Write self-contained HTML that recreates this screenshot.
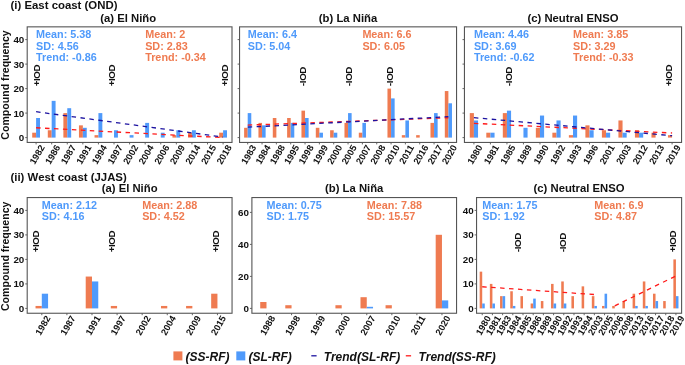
<!DOCTYPE html>
<html><head><meta charset="utf-8"><title>Compound frequency</title>
<style>
html,body{margin:0;padding:0;background:#fff;}
body{width:685px;height:365px;overflow:hidden;}
svg{display:block;will-change:transform;}
text{font-family:"Liberation Sans", sans-serif;font-weight:bold;}
</style></head>
<body>
<svg width="685" height="365" viewBox="0 0 685 365">
<rect width="685" height="365" fill="#fff"/>
<rect x="32.20" y="132.70" width="3.90" height="4.90" fill="#EF7B51"/>
<rect x="36.10" y="118.00" width="3.90" height="19.60" fill="#4F9AFB"/>
<rect x="47.79" y="130.25" width="3.90" height="7.35" fill="#EF7B51"/>
<rect x="51.68" y="100.85" width="3.90" height="36.75" fill="#4F9AFB"/>
<rect x="63.37" y="113.10" width="3.90" height="24.50" fill="#EF7B51"/>
<rect x="67.27" y="108.20" width="3.90" height="29.40" fill="#4F9AFB"/>
<rect x="78.95" y="125.35" width="3.90" height="12.25" fill="#EF7B51"/>
<rect x="82.85" y="127.80" width="3.90" height="9.80" fill="#4F9AFB"/>
<rect x="94.54" y="135.15" width="3.90" height="2.45" fill="#EF7B51"/>
<rect x="98.43" y="113.10" width="3.90" height="24.50" fill="#4F9AFB"/>
<rect x="114.02" y="130.25" width="3.90" height="7.35" fill="#4F9AFB"/>
<rect x="129.60" y="135.15" width="3.90" height="2.45" fill="#4F9AFB"/>
<rect x="145.18" y="122.90" width="3.90" height="14.70" fill="#4F9AFB"/>
<rect x="160.77" y="132.70" width="3.90" height="4.90" fill="#4F9AFB"/>
<rect x="172.45" y="135.15" width="3.90" height="2.45" fill="#EF7B51"/>
<rect x="176.35" y="130.25" width="3.90" height="7.35" fill="#4F9AFB"/>
<rect x="188.04" y="132.70" width="3.90" height="4.90" fill="#EF7B51"/>
<rect x="191.93" y="130.25" width="3.90" height="7.35" fill="#4F9AFB"/>
<rect x="219.20" y="132.70" width="3.90" height="4.90" fill="#EF7B51"/>
<rect x="223.10" y="130.25" width="3.90" height="7.35" fill="#4F9AFB"/>
<line x1="36.10" y1="127.77" x2="223.10" y2="137.63" stroke="#FF1A1A" stroke-width="1.3" stroke-dasharray="4.48 4.48"/>
<line x1="36.10" y1="111.73" x2="223.10" y2="137.09" stroke="#1C12A0" stroke-width="1.3" stroke-dasharray="4.48 4.48"/>
<rect x="27.20" y="26.85" width="204.80" height="115.60" fill="none" stroke="#555555" stroke-width="1.1"/>
<line x1="25.25" y1="137.60" x2="27.15" y2="137.60" stroke="#555555" stroke-width="0.9"/>
<text x="24.30" y="141.00" font-size="9.8" text-anchor="end" fill="#111111">0</text>
<line x1="25.25" y1="113.10" x2="27.15" y2="113.10" stroke="#555555" stroke-width="0.9"/>
<text x="24.30" y="116.50" font-size="9.8" text-anchor="end" fill="#111111">10</text>
<line x1="25.25" y1="88.60" x2="27.15" y2="88.60" stroke="#555555" stroke-width="0.9"/>
<text x="24.30" y="92.00" font-size="9.8" text-anchor="end" fill="#111111">20</text>
<line x1="25.25" y1="64.10" x2="27.15" y2="64.10" stroke="#555555" stroke-width="0.9"/>
<text x="24.30" y="67.50" font-size="9.8" text-anchor="end" fill="#111111">30</text>
<line x1="25.25" y1="39.60" x2="27.15" y2="39.60" stroke="#555555" stroke-width="0.9"/>
<text x="24.30" y="43.00" font-size="9.8" text-anchor="end" fill="#111111">40</text>
<line x1="36.10" y1="142.50" x2="36.10" y2="144.40" stroke="#555555" stroke-width="0.9"/>
<text transform="translate(45.10,147.20) rotate(-60)" font-size="9.3" text-anchor="end" fill="#111111">1982</text>
<line x1="51.68" y1="142.50" x2="51.68" y2="144.40" stroke="#555555" stroke-width="0.9"/>
<text transform="translate(60.68,147.20) rotate(-60)" font-size="9.3" text-anchor="end" fill="#111111">1986</text>
<line x1="67.27" y1="142.50" x2="67.27" y2="144.40" stroke="#555555" stroke-width="0.9"/>
<text transform="translate(76.27,147.20) rotate(-60)" font-size="9.3" text-anchor="end" fill="#111111">1987</text>
<line x1="82.85" y1="142.50" x2="82.85" y2="144.40" stroke="#555555" stroke-width="0.9"/>
<text transform="translate(91.85,147.20) rotate(-60)" font-size="9.3" text-anchor="end" fill="#111111">1991</text>
<line x1="98.43" y1="142.50" x2="98.43" y2="144.40" stroke="#555555" stroke-width="0.9"/>
<text transform="translate(107.43,147.20) rotate(-60)" font-size="9.3" text-anchor="end" fill="#111111">1994</text>
<line x1="114.02" y1="142.50" x2="114.02" y2="144.40" stroke="#555555" stroke-width="0.9"/>
<text transform="translate(123.02,147.20) rotate(-60)" font-size="9.3" text-anchor="end" fill="#111111">1997</text>
<line x1="129.60" y1="142.50" x2="129.60" y2="144.40" stroke="#555555" stroke-width="0.9"/>
<text transform="translate(138.60,147.20) rotate(-60)" font-size="9.3" text-anchor="end" fill="#111111">2002</text>
<line x1="145.18" y1="142.50" x2="145.18" y2="144.40" stroke="#555555" stroke-width="0.9"/>
<text transform="translate(154.18,147.20) rotate(-60)" font-size="9.3" text-anchor="end" fill="#111111">2004</text>
<line x1="160.77" y1="142.50" x2="160.77" y2="144.40" stroke="#555555" stroke-width="0.9"/>
<text transform="translate(169.77,147.20) rotate(-60)" font-size="9.3" text-anchor="end" fill="#111111">2006</text>
<line x1="176.35" y1="142.50" x2="176.35" y2="144.40" stroke="#555555" stroke-width="0.9"/>
<text transform="translate(185.35,147.20) rotate(-60)" font-size="9.3" text-anchor="end" fill="#111111">2009</text>
<line x1="191.93" y1="142.50" x2="191.93" y2="144.40" stroke="#555555" stroke-width="0.9"/>
<text transform="translate(200.93,147.20) rotate(-60)" font-size="9.3" text-anchor="end" fill="#111111">2014</text>
<line x1="207.52" y1="142.50" x2="207.52" y2="144.40" stroke="#555555" stroke-width="0.9"/>
<text transform="translate(216.52,147.20) rotate(-60)" font-size="9.3" text-anchor="end" fill="#111111">2015</text>
<line x1="223.10" y1="142.50" x2="223.10" y2="144.40" stroke="#555555" stroke-width="0.9"/>
<text transform="translate(232.10,147.20) rotate(-60)" font-size="9.3" text-anchor="end" fill="#111111">2018</text>
<text x="36.10" y="37.90" font-size="10.8" fill="#4F9AFB">Mean: 5.38</text>
<text x="36.10" y="49.50" font-size="10.8" fill="#4F9AFB">SD: 4.56</text>
<text x="36.10" y="61.00" font-size="10.8" fill="#4F9AFB">Trend: -0.86</text>
<text x="145.18" y="37.90" font-size="10.8" fill="#EF7B51">Mean: 2</text>
<text x="145.18" y="49.50" font-size="10.8" fill="#EF7B51">SD: 2.83</text>
<text x="145.18" y="61.00" font-size="10.8" fill="#EF7B51">Trend: -0.34</text>
<text transform="translate(39.51,75.50) rotate(-90)" font-size="9.8" letter-spacing="-0.45" text-anchor="middle" fill="#111111">+IOD</text>
<text transform="translate(115.41,75.50) rotate(-90)" font-size="9.8" letter-spacing="-0.45" text-anchor="middle" fill="#111111">+IOD</text>
<text transform="translate(228.21,75.50) rotate(-90)" font-size="9.8" letter-spacing="-0.45" text-anchor="middle" fill="#111111">+IOD</text>
<text x="128.20" y="21.50" font-size="11.3" text-anchor="middle" fill="#111111">(a) El Niño</text>
<rect x="244.12" y="127.80" width="3.58" height="9.80" fill="#EF7B51"/>
<rect x="247.70" y="113.10" width="3.58" height="24.50" fill="#4F9AFB"/>
<rect x="258.45" y="122.90" width="3.58" height="14.70" fill="#EF7B51"/>
<rect x="262.04" y="125.35" width="3.58" height="12.25" fill="#4F9AFB"/>
<rect x="272.79" y="118.00" width="3.58" height="19.60" fill="#EF7B51"/>
<rect x="287.12" y="118.00" width="3.58" height="19.60" fill="#EF7B51"/>
<rect x="290.71" y="122.90" width="3.58" height="14.70" fill="#4F9AFB"/>
<rect x="301.46" y="110.65" width="3.58" height="26.95" fill="#EF7B51"/>
<rect x="305.04" y="118.00" width="3.58" height="19.60" fill="#4F9AFB"/>
<rect x="315.80" y="127.80" width="3.58" height="9.80" fill="#EF7B51"/>
<rect x="319.38" y="132.70" width="3.58" height="4.90" fill="#4F9AFB"/>
<rect x="330.13" y="130.25" width="3.58" height="7.35" fill="#EF7B51"/>
<rect x="333.71" y="132.70" width="3.58" height="4.90" fill="#4F9AFB"/>
<rect x="344.47" y="122.90" width="3.58" height="14.70" fill="#EF7B51"/>
<rect x="348.05" y="113.10" width="3.58" height="24.50" fill="#4F9AFB"/>
<rect x="358.80" y="132.70" width="3.58" height="4.90" fill="#EF7B51"/>
<rect x="362.39" y="122.90" width="3.58" height="14.70" fill="#4F9AFB"/>
<rect x="387.47" y="88.60" width="3.58" height="49.00" fill="#EF7B51"/>
<rect x="391.06" y="98.40" width="3.58" height="39.20" fill="#4F9AFB"/>
<rect x="401.81" y="135.15" width="3.58" height="2.45" fill="#EF7B51"/>
<rect x="405.39" y="120.45" width="3.58" height="17.15" fill="#4F9AFB"/>
<rect x="416.14" y="135.15" width="3.58" height="2.45" fill="#EF7B51"/>
<rect x="430.48" y="122.90" width="3.58" height="14.70" fill="#EF7B51"/>
<rect x="434.06" y="113.10" width="3.58" height="24.50" fill="#4F9AFB"/>
<rect x="444.81" y="91.05" width="3.58" height="46.55" fill="#EF7B51"/>
<rect x="448.40" y="103.30" width="3.58" height="34.30" fill="#4F9AFB"/>
<line x1="247.70" y1="125.10" x2="448.40" y2="117.76" stroke="#FF1A1A" stroke-width="1.3" stroke-dasharray="4.48 4.48"/>
<line x1="247.70" y1="127.19" x2="448.40" y2="116.65" stroke="#1C12A0" stroke-width="1.3" stroke-dasharray="4.48 4.48"/>
<rect x="239.55" y="26.85" width="217.00" height="115.60" fill="none" stroke="#555555" stroke-width="1.1"/>
<line x1="237.60" y1="137.60" x2="239.50" y2="137.60" stroke="#555555" stroke-width="0.9"/>
<line x1="237.60" y1="113.10" x2="239.50" y2="113.10" stroke="#555555" stroke-width="0.9"/>
<line x1="237.60" y1="88.60" x2="239.50" y2="88.60" stroke="#555555" stroke-width="0.9"/>
<line x1="237.60" y1="64.10" x2="239.50" y2="64.10" stroke="#555555" stroke-width="0.9"/>
<line x1="237.60" y1="39.60" x2="239.50" y2="39.60" stroke="#555555" stroke-width="0.9"/>
<line x1="247.70" y1="142.50" x2="247.70" y2="144.40" stroke="#555555" stroke-width="0.9"/>
<text transform="translate(256.70,147.20) rotate(-60)" font-size="9.3" text-anchor="end" fill="#111111">1983</text>
<line x1="262.04" y1="142.50" x2="262.04" y2="144.40" stroke="#555555" stroke-width="0.9"/>
<text transform="translate(271.04,147.20) rotate(-60)" font-size="9.3" text-anchor="end" fill="#111111">1984</text>
<line x1="276.37" y1="142.50" x2="276.37" y2="144.40" stroke="#555555" stroke-width="0.9"/>
<text transform="translate(285.37,147.20) rotate(-60)" font-size="9.3" text-anchor="end" fill="#111111">1988</text>
<line x1="290.71" y1="142.50" x2="290.71" y2="144.40" stroke="#555555" stroke-width="0.9"/>
<text transform="translate(299.71,147.20) rotate(-60)" font-size="9.3" text-anchor="end" fill="#111111">1995</text>
<line x1="305.04" y1="142.50" x2="305.04" y2="144.40" stroke="#555555" stroke-width="0.9"/>
<text transform="translate(314.04,147.20) rotate(-60)" font-size="9.3" text-anchor="end" fill="#111111">1998</text>
<line x1="319.38" y1="142.50" x2="319.38" y2="144.40" stroke="#555555" stroke-width="0.9"/>
<text transform="translate(328.38,147.20) rotate(-60)" font-size="9.3" text-anchor="end" fill="#111111">1999</text>
<line x1="333.71" y1="142.50" x2="333.71" y2="144.40" stroke="#555555" stroke-width="0.9"/>
<text transform="translate(342.71,147.20) rotate(-60)" font-size="9.3" text-anchor="end" fill="#111111">2000</text>
<line x1="348.05" y1="142.50" x2="348.05" y2="144.40" stroke="#555555" stroke-width="0.9"/>
<text transform="translate(357.05,147.20) rotate(-60)" font-size="9.3" text-anchor="end" fill="#111111">2005</text>
<line x1="362.39" y1="142.50" x2="362.39" y2="144.40" stroke="#555555" stroke-width="0.9"/>
<text transform="translate(371.39,147.20) rotate(-60)" font-size="9.3" text-anchor="end" fill="#111111">2007</text>
<line x1="376.72" y1="142.50" x2="376.72" y2="144.40" stroke="#555555" stroke-width="0.9"/>
<text transform="translate(385.72,147.20) rotate(-60)" font-size="9.3" text-anchor="end" fill="#111111">2008</text>
<line x1="391.06" y1="142.50" x2="391.06" y2="144.40" stroke="#555555" stroke-width="0.9"/>
<text transform="translate(400.06,147.20) rotate(-60)" font-size="9.3" text-anchor="end" fill="#111111">2010</text>
<line x1="405.39" y1="142.50" x2="405.39" y2="144.40" stroke="#555555" stroke-width="0.9"/>
<text transform="translate(414.39,147.20) rotate(-60)" font-size="9.3" text-anchor="end" fill="#111111">2011</text>
<line x1="419.73" y1="142.50" x2="419.73" y2="144.40" stroke="#555555" stroke-width="0.9"/>
<text transform="translate(428.73,147.20) rotate(-60)" font-size="9.3" text-anchor="end" fill="#111111">2016</text>
<line x1="434.06" y1="142.50" x2="434.06" y2="144.40" stroke="#555555" stroke-width="0.9"/>
<text transform="translate(443.06,147.20) rotate(-60)" font-size="9.3" text-anchor="end" fill="#111111">2017</text>
<line x1="448.40" y1="142.50" x2="448.40" y2="144.40" stroke="#555555" stroke-width="0.9"/>
<text transform="translate(457.40,147.20) rotate(-60)" font-size="9.3" text-anchor="end" fill="#111111">2020</text>
<text x="247.70" y="37.90" font-size="10.8" fill="#4F9AFB">Mean: 6.4</text>
<text x="247.70" y="49.50" font-size="10.8" fill="#4F9AFB">SD: 5.04</text>
<text x="362.39" y="37.90" font-size="10.8" fill="#EF7B51">Mean: 6.6</text>
<text x="362.39" y="49.50" font-size="10.8" fill="#EF7B51">SD: 6.05</text>
<text transform="translate(305.71,76.50) rotate(-90)" font-size="9.8" letter-spacing="-0.45" text-anchor="middle" fill="#111111">-IOD</text>
<text transform="translate(352.21,76.50) rotate(-90)" font-size="9.8" letter-spacing="-0.45" text-anchor="middle" fill="#111111">-IOD</text>
<text transform="translate(393.01,76.50) rotate(-90)" font-size="9.8" letter-spacing="-0.45" text-anchor="middle" fill="#111111">-IOD</text>
<text x="348.05" y="21.50" font-size="11.3" text-anchor="middle" fill="#111111">(b) La Niña</text>
<rect x="469.78" y="113.10" width="4.13" height="24.50" fill="#EF7B51"/>
<rect x="473.91" y="120.45" width="4.13" height="17.15" fill="#4F9AFB"/>
<rect x="486.30" y="132.70" width="4.13" height="4.90" fill="#EF7B51"/>
<rect x="490.42" y="132.70" width="4.13" height="4.90" fill="#4F9AFB"/>
<rect x="502.81" y="113.10" width="4.13" height="24.50" fill="#EF7B51"/>
<rect x="506.94" y="110.65" width="4.13" height="26.95" fill="#4F9AFB"/>
<rect x="523.45" y="127.80" width="4.13" height="9.80" fill="#4F9AFB"/>
<rect x="535.84" y="127.80" width="4.13" height="9.80" fill="#EF7B51"/>
<rect x="539.97" y="115.55" width="4.13" height="22.05" fill="#4F9AFB"/>
<rect x="552.36" y="132.70" width="4.13" height="4.90" fill="#EF7B51"/>
<rect x="556.48" y="120.45" width="4.13" height="17.15" fill="#4F9AFB"/>
<rect x="568.87" y="135.15" width="4.13" height="2.45" fill="#EF7B51"/>
<rect x="573.00" y="115.55" width="4.13" height="22.05" fill="#4F9AFB"/>
<rect x="585.39" y="125.35" width="4.13" height="12.25" fill="#EF7B51"/>
<rect x="589.52" y="130.25" width="4.13" height="7.35" fill="#4F9AFB"/>
<rect x="601.90" y="130.25" width="4.13" height="7.35" fill="#EF7B51"/>
<rect x="606.03" y="132.70" width="4.13" height="4.90" fill="#4F9AFB"/>
<rect x="618.42" y="120.45" width="4.13" height="17.15" fill="#EF7B51"/>
<rect x="622.55" y="132.70" width="4.13" height="4.90" fill="#4F9AFB"/>
<rect x="634.93" y="130.25" width="4.13" height="7.35" fill="#EF7B51"/>
<rect x="639.06" y="132.70" width="4.13" height="4.90" fill="#4F9AFB"/>
<rect x="651.45" y="132.70" width="4.13" height="4.90" fill="#EF7B51"/>
<rect x="667.96" y="135.15" width="4.13" height="2.45" fill="#EF7B51"/>
<line x1="473.91" y1="123.33" x2="672.09" y2="133.02" stroke="#FF1A1A" stroke-width="1.3" stroke-dasharray="4.48 4.48"/>
<line x1="473.91" y1="117.62" x2="672.09" y2="135.72" stroke="#1C12A0" stroke-width="1.3" stroke-dasharray="4.48 4.48"/>
<rect x="464.45" y="26.85" width="217.10" height="115.60" fill="none" stroke="#555555" stroke-width="1.1"/>
<line x1="462.50" y1="137.60" x2="464.40" y2="137.60" stroke="#555555" stroke-width="0.9"/>
<line x1="462.50" y1="113.10" x2="464.40" y2="113.10" stroke="#555555" stroke-width="0.9"/>
<line x1="462.50" y1="88.60" x2="464.40" y2="88.60" stroke="#555555" stroke-width="0.9"/>
<line x1="462.50" y1="64.10" x2="464.40" y2="64.10" stroke="#555555" stroke-width="0.9"/>
<line x1="462.50" y1="39.60" x2="464.40" y2="39.60" stroke="#555555" stroke-width="0.9"/>
<line x1="473.91" y1="142.50" x2="473.91" y2="144.40" stroke="#555555" stroke-width="0.9"/>
<text transform="translate(482.91,147.20) rotate(-60)" font-size="9.3" text-anchor="end" fill="#111111">1980</text>
<line x1="490.42" y1="142.50" x2="490.42" y2="144.40" stroke="#555555" stroke-width="0.9"/>
<text transform="translate(499.42,147.20) rotate(-60)" font-size="9.3" text-anchor="end" fill="#111111">1981</text>
<line x1="506.94" y1="142.50" x2="506.94" y2="144.40" stroke="#555555" stroke-width="0.9"/>
<text transform="translate(515.94,147.20) rotate(-60)" font-size="9.3" text-anchor="end" fill="#111111">1985</text>
<line x1="523.45" y1="142.50" x2="523.45" y2="144.40" stroke="#555555" stroke-width="0.9"/>
<text transform="translate(532.45,147.20) rotate(-60)" font-size="9.3" text-anchor="end" fill="#111111">1989</text>
<line x1="539.97" y1="142.50" x2="539.97" y2="144.40" stroke="#555555" stroke-width="0.9"/>
<text transform="translate(548.97,147.20) rotate(-60)" font-size="9.3" text-anchor="end" fill="#111111">1990</text>
<line x1="556.48" y1="142.50" x2="556.48" y2="144.40" stroke="#555555" stroke-width="0.9"/>
<text transform="translate(565.48,147.20) rotate(-60)" font-size="9.3" text-anchor="end" fill="#111111">1992</text>
<line x1="573.00" y1="142.50" x2="573.00" y2="144.40" stroke="#555555" stroke-width="0.9"/>
<text transform="translate(582.00,147.20) rotate(-60)" font-size="9.3" text-anchor="end" fill="#111111">1993</text>
<line x1="589.52" y1="142.50" x2="589.52" y2="144.40" stroke="#555555" stroke-width="0.9"/>
<text transform="translate(598.52,147.20) rotate(-60)" font-size="9.3" text-anchor="end" fill="#111111">1996</text>
<line x1="606.03" y1="142.50" x2="606.03" y2="144.40" stroke="#555555" stroke-width="0.9"/>
<text transform="translate(615.03,147.20) rotate(-60)" font-size="9.3" text-anchor="end" fill="#111111">2001</text>
<line x1="622.55" y1="142.50" x2="622.55" y2="144.40" stroke="#555555" stroke-width="0.9"/>
<text transform="translate(631.55,147.20) rotate(-60)" font-size="9.3" text-anchor="end" fill="#111111">2003</text>
<line x1="639.06" y1="142.50" x2="639.06" y2="144.40" stroke="#555555" stroke-width="0.9"/>
<text transform="translate(648.06,147.20) rotate(-60)" font-size="9.3" text-anchor="end" fill="#111111">2012</text>
<line x1="655.58" y1="142.50" x2="655.58" y2="144.40" stroke="#555555" stroke-width="0.9"/>
<text transform="translate(664.58,147.20) rotate(-60)" font-size="9.3" text-anchor="end" fill="#111111">2013</text>
<line x1="672.09" y1="142.50" x2="672.09" y2="144.40" stroke="#555555" stroke-width="0.9"/>
<text transform="translate(681.09,147.20) rotate(-60)" font-size="9.3" text-anchor="end" fill="#111111">2019</text>
<text x="473.91" y="37.90" font-size="10.8" fill="#4F9AFB">Mean: 4.46</text>
<text x="473.91" y="49.50" font-size="10.8" fill="#4F9AFB">SD: 3.69</text>
<text x="473.91" y="61.00" font-size="10.8" fill="#4F9AFB">Trend: -0.62</text>
<text x="573.00" y="37.90" font-size="10.8" fill="#EF7B51">Mean: 3.85</text>
<text x="573.00" y="49.50" font-size="10.8" fill="#EF7B51">SD: 3.29</text>
<text x="573.00" y="61.00" font-size="10.8" fill="#EF7B51">Trend: -0.33</text>
<text transform="translate(512.11,76.50) rotate(-90)" font-size="9.8" letter-spacing="-0.45" text-anchor="middle" fill="#111111">-IOD</text>
<text transform="translate(671.91,75.50) rotate(-90)" font-size="9.8" letter-spacing="-0.45" text-anchor="middle" fill="#111111">+IOD</text>
<text x="573.00" y="21.50" font-size="11.3" text-anchor="middle" fill="#111111">(c) Neutral ENSO</text>
<rect x="35.53" y="305.95" width="6.27" height="2.45" fill="#EF7B51"/>
<rect x="41.80" y="293.70" width="6.27" height="14.70" fill="#4F9AFB"/>
<rect x="85.71" y="276.55" width="6.27" height="31.85" fill="#EF7B51"/>
<rect x="91.99" y="281.45" width="6.27" height="26.95" fill="#4F9AFB"/>
<rect x="110.81" y="305.95" width="6.27" height="2.45" fill="#EF7B51"/>
<rect x="160.99" y="305.95" width="6.27" height="2.45" fill="#EF7B51"/>
<rect x="186.08" y="305.95" width="6.27" height="2.45" fill="#EF7B51"/>
<rect x="211.17" y="293.70" width="6.27" height="14.70" fill="#EF7B51"/>
<rect x="27.20" y="197.55" width="204.85" height="115.70" fill="none" stroke="#555555" stroke-width="1.1"/>
<line x1="25.25" y1="308.40" x2="27.15" y2="308.40" stroke="#555555" stroke-width="0.9"/>
<text x="24.30" y="311.80" font-size="9.8" text-anchor="end" fill="#111111">0</text>
<line x1="25.25" y1="283.90" x2="27.15" y2="283.90" stroke="#555555" stroke-width="0.9"/>
<text x="24.30" y="287.30" font-size="9.8" text-anchor="end" fill="#111111">10</text>
<line x1="25.25" y1="259.40" x2="27.15" y2="259.40" stroke="#555555" stroke-width="0.9"/>
<text x="24.30" y="262.80" font-size="9.8" text-anchor="end" fill="#111111">20</text>
<line x1="25.25" y1="234.90" x2="27.15" y2="234.90" stroke="#555555" stroke-width="0.9"/>
<text x="24.30" y="238.30" font-size="9.8" text-anchor="end" fill="#111111">30</text>
<line x1="25.25" y1="210.40" x2="27.15" y2="210.40" stroke="#555555" stroke-width="0.9"/>
<text x="24.30" y="213.80" font-size="9.8" text-anchor="end" fill="#111111">40</text>
<line x1="41.80" y1="313.30" x2="41.80" y2="315.20" stroke="#555555" stroke-width="0.9"/>
<text transform="translate(50.80,318.00) rotate(-60)" font-size="9.3" text-anchor="end" fill="#111111">1982</text>
<line x1="66.90" y1="313.30" x2="66.90" y2="315.20" stroke="#555555" stroke-width="0.9"/>
<text transform="translate(75.90,318.00) rotate(-60)" font-size="9.3" text-anchor="end" fill="#111111">1987</text>
<line x1="91.99" y1="313.30" x2="91.99" y2="315.20" stroke="#555555" stroke-width="0.9"/>
<text transform="translate(100.99,318.00) rotate(-60)" font-size="9.3" text-anchor="end" fill="#111111">1991</text>
<line x1="117.08" y1="313.30" x2="117.08" y2="315.20" stroke="#555555" stroke-width="0.9"/>
<text transform="translate(126.08,318.00) rotate(-60)" font-size="9.3" text-anchor="end" fill="#111111">1997</text>
<line x1="142.17" y1="313.30" x2="142.17" y2="315.20" stroke="#555555" stroke-width="0.9"/>
<text transform="translate(151.17,318.00) rotate(-60)" font-size="9.3" text-anchor="end" fill="#111111">2002</text>
<line x1="167.26" y1="313.30" x2="167.26" y2="315.20" stroke="#555555" stroke-width="0.9"/>
<text transform="translate(176.26,318.00) rotate(-60)" font-size="9.3" text-anchor="end" fill="#111111">2004</text>
<line x1="192.35" y1="313.30" x2="192.35" y2="315.20" stroke="#555555" stroke-width="0.9"/>
<text transform="translate(201.35,318.00) rotate(-60)" font-size="9.3" text-anchor="end" fill="#111111">2009</text>
<line x1="217.45" y1="313.30" x2="217.45" y2="315.20" stroke="#555555" stroke-width="0.9"/>
<text transform="translate(226.45,318.00) rotate(-60)" font-size="9.3" text-anchor="end" fill="#111111">2015</text>
<text x="41.80" y="208.70" font-size="10.8" fill="#4F9AFB">Mean: 2.12</text>
<text x="41.80" y="220.30" font-size="10.8" fill="#4F9AFB">SD: 4.16</text>
<text x="142.17" y="208.70" font-size="10.8" fill="#EF7B51">Mean: 2.88</text>
<text x="142.17" y="220.30" font-size="10.8" fill="#EF7B51">SD: 4.52</text>
<text transform="translate(39.21,241.60) rotate(-90)" font-size="9.8" letter-spacing="-0.45" text-anchor="middle" fill="#111111">+IOD</text>
<text transform="translate(115.21,241.60) rotate(-90)" font-size="9.8" letter-spacing="-0.45" text-anchor="middle" fill="#111111">+IOD</text>
<text transform="translate(219.01,241.60) rotate(-90)" font-size="9.8" letter-spacing="-0.45" text-anchor="middle" fill="#111111">+IOD</text>
<text x="129.62" y="192.30" font-size="11.3" text-anchor="middle" fill="#111111">(a) El Niño</text>
<rect x="260.22" y="302.00" width="6.27" height="6.40" fill="#EF7B51"/>
<rect x="285.29" y="305.20" width="6.27" height="3.20" fill="#EF7B51"/>
<rect x="335.42" y="305.20" width="6.27" height="3.20" fill="#EF7B51"/>
<rect x="360.49" y="297.20" width="6.27" height="11.20" fill="#EF7B51"/>
<rect x="366.76" y="306.80" width="6.27" height="1.60" fill="#4F9AFB"/>
<rect x="385.56" y="305.20" width="6.27" height="3.20" fill="#EF7B51"/>
<rect x="435.69" y="234.80" width="6.27" height="73.60" fill="#EF7B51"/>
<rect x="441.96" y="300.40" width="6.27" height="8.00" fill="#4F9AFB"/>
<rect x="251.90" y="197.55" width="204.65" height="115.70" fill="none" stroke="#555555" stroke-width="1.1"/>
<line x1="249.95" y1="308.40" x2="251.85" y2="308.40" stroke="#555555" stroke-width="0.9"/>
<text x="249.00" y="311.80" font-size="9.8" text-anchor="end" fill="#111111">0</text>
<line x1="249.95" y1="276.40" x2="251.85" y2="276.40" stroke="#555555" stroke-width="0.9"/>
<text x="249.00" y="279.80" font-size="9.8" text-anchor="end" fill="#111111">20</text>
<line x1="249.95" y1="244.40" x2="251.85" y2="244.40" stroke="#555555" stroke-width="0.9"/>
<text x="249.00" y="247.80" font-size="9.8" text-anchor="end" fill="#111111">40</text>
<line x1="249.95" y1="212.40" x2="251.85" y2="212.40" stroke="#555555" stroke-width="0.9"/>
<text x="249.00" y="215.80" font-size="9.8" text-anchor="end" fill="#111111">60</text>
<line x1="266.49" y1="313.30" x2="266.49" y2="315.20" stroke="#555555" stroke-width="0.9"/>
<text transform="translate(275.49,318.00) rotate(-60)" font-size="9.3" text-anchor="end" fill="#111111">1988</text>
<line x1="291.56" y1="313.30" x2="291.56" y2="315.20" stroke="#555555" stroke-width="0.9"/>
<text transform="translate(300.56,318.00) rotate(-60)" font-size="9.3" text-anchor="end" fill="#111111">1998</text>
<line x1="316.62" y1="313.30" x2="316.62" y2="315.20" stroke="#555555" stroke-width="0.9"/>
<text transform="translate(325.62,318.00) rotate(-60)" font-size="9.3" text-anchor="end" fill="#111111">1999</text>
<line x1="341.69" y1="313.30" x2="341.69" y2="315.20" stroke="#555555" stroke-width="0.9"/>
<text transform="translate(350.69,318.00) rotate(-60)" font-size="9.3" text-anchor="end" fill="#111111">2000</text>
<line x1="366.76" y1="313.30" x2="366.76" y2="315.20" stroke="#555555" stroke-width="0.9"/>
<text transform="translate(375.76,318.00) rotate(-60)" font-size="9.3" text-anchor="end" fill="#111111">2007</text>
<line x1="391.83" y1="313.30" x2="391.83" y2="315.20" stroke="#555555" stroke-width="0.9"/>
<text transform="translate(400.83,318.00) rotate(-60)" font-size="9.3" text-anchor="end" fill="#111111">2010</text>
<line x1="416.89" y1="313.30" x2="416.89" y2="315.20" stroke="#555555" stroke-width="0.9"/>
<text transform="translate(425.89,318.00) rotate(-60)" font-size="9.3" text-anchor="end" fill="#111111">2011</text>
<line x1="441.96" y1="313.30" x2="441.96" y2="315.20" stroke="#555555" stroke-width="0.9"/>
<text transform="translate(450.96,318.00) rotate(-60)" font-size="9.3" text-anchor="end" fill="#111111">2020</text>
<text x="266.49" y="208.70" font-size="10.8" fill="#4F9AFB">Mean: 0.75</text>
<text x="266.49" y="220.30" font-size="10.8" fill="#4F9AFB">SD: 1.75</text>
<text x="366.76" y="208.70" font-size="10.8" fill="#EF7B51">Mean: 7.88</text>
<text x="366.76" y="220.30" font-size="10.8" fill="#EF7B51">SD: 15.57</text>
<text x="354.23" y="192.30" font-size="11.3" text-anchor="middle" fill="#111111">(b) La Niña</text>
<rect x="479.67" y="271.65" width="2.55" height="36.75" fill="#EF7B51"/>
<rect x="482.22" y="303.50" width="2.55" height="4.90" fill="#4F9AFB"/>
<rect x="489.86" y="283.90" width="2.55" height="24.50" fill="#EF7B51"/>
<rect x="492.41" y="303.50" width="2.55" height="4.90" fill="#4F9AFB"/>
<rect x="500.06" y="296.15" width="2.55" height="12.25" fill="#EF7B51"/>
<rect x="502.61" y="296.15" width="2.55" height="12.25" fill="#4F9AFB"/>
<rect x="510.26" y="291.25" width="2.55" height="17.15" fill="#EF7B51"/>
<rect x="512.80" y="305.95" width="2.55" height="2.45" fill="#4F9AFB"/>
<rect x="520.45" y="296.15" width="2.55" height="12.25" fill="#EF7B51"/>
<rect x="530.65" y="303.50" width="2.55" height="4.90" fill="#EF7B51"/>
<rect x="533.20" y="298.60" width="2.55" height="9.80" fill="#4F9AFB"/>
<rect x="540.84" y="301.05" width="2.55" height="7.35" fill="#EF7B51"/>
<rect x="551.04" y="283.90" width="2.55" height="24.50" fill="#EF7B51"/>
<rect x="553.59" y="303.50" width="2.55" height="4.90" fill="#4F9AFB"/>
<rect x="561.23" y="281.45" width="2.55" height="26.95" fill="#EF7B51"/>
<rect x="563.78" y="303.50" width="2.55" height="4.90" fill="#4F9AFB"/>
<rect x="571.43" y="296.15" width="2.55" height="12.25" fill="#EF7B51"/>
<rect x="581.62" y="286.35" width="2.55" height="22.05" fill="#EF7B51"/>
<rect x="591.82" y="296.15" width="2.55" height="12.25" fill="#EF7B51"/>
<rect x="594.37" y="305.95" width="2.55" height="2.45" fill="#4F9AFB"/>
<rect x="602.01" y="305.95" width="2.55" height="2.45" fill="#EF7B51"/>
<rect x="604.56" y="293.70" width="2.55" height="14.70" fill="#4F9AFB"/>
<rect x="612.21" y="305.95" width="2.55" height="2.45" fill="#EF7B51"/>
<rect x="622.41" y="301.05" width="2.55" height="7.35" fill="#EF7B51"/>
<rect x="632.60" y="293.70" width="2.55" height="14.70" fill="#EF7B51"/>
<rect x="635.15" y="305.95" width="2.55" height="2.45" fill="#4F9AFB"/>
<rect x="642.80" y="281.45" width="2.55" height="26.95" fill="#EF7B51"/>
<rect x="645.35" y="305.95" width="2.55" height="2.45" fill="#4F9AFB"/>
<rect x="652.99" y="293.70" width="2.55" height="14.70" fill="#EF7B51"/>
<rect x="655.54" y="301.05" width="2.55" height="7.35" fill="#4F9AFB"/>
<rect x="663.19" y="301.05" width="2.55" height="7.35" fill="#EF7B51"/>
<rect x="673.38" y="259.40" width="2.55" height="49.00" fill="#EF7B51"/>
<rect x="675.93" y="296.15" width="2.55" height="12.25" fill="#4F9AFB"/>
<line x1="482.22" y1="286.73" x2="594.37" y2="294.55" stroke="#FF1A1A" stroke-width="1.3" stroke-dasharray="4.48 4.48"/>
<line x1="614.76" y1="305.86" x2="675.93" y2="275.94" stroke="#FF1A1A" stroke-width="1.3" stroke-dasharray="4.48 4.48"/>
<rect x="476.55" y="197.55" width="205.05" height="115.70" fill="none" stroke="#555555" stroke-width="1.1"/>
<line x1="474.60" y1="308.40" x2="476.50" y2="308.40" stroke="#555555" stroke-width="0.9"/>
<text x="473.65" y="311.80" font-size="9.8" text-anchor="end" fill="#111111">0</text>
<line x1="474.60" y1="283.90" x2="476.50" y2="283.90" stroke="#555555" stroke-width="0.9"/>
<text x="473.65" y="287.30" font-size="9.8" text-anchor="end" fill="#111111">10</text>
<line x1="474.60" y1="259.40" x2="476.50" y2="259.40" stroke="#555555" stroke-width="0.9"/>
<text x="473.65" y="262.80" font-size="9.8" text-anchor="end" fill="#111111">20</text>
<line x1="474.60" y1="234.90" x2="476.50" y2="234.90" stroke="#555555" stroke-width="0.9"/>
<text x="473.65" y="238.30" font-size="9.8" text-anchor="end" fill="#111111">30</text>
<line x1="474.60" y1="210.40" x2="476.50" y2="210.40" stroke="#555555" stroke-width="0.9"/>
<text x="473.65" y="213.80" font-size="9.8" text-anchor="end" fill="#111111">40</text>
<line x1="482.22" y1="313.30" x2="482.22" y2="315.20" stroke="#555555" stroke-width="0.9"/>
<text transform="translate(491.22,318.00) rotate(-60)" font-size="9.3" text-anchor="end" fill="#111111">1980</text>
<line x1="492.41" y1="313.30" x2="492.41" y2="315.20" stroke="#555555" stroke-width="0.9"/>
<text transform="translate(501.41,318.00) rotate(-60)" font-size="9.3" text-anchor="end" fill="#111111">1981</text>
<line x1="502.61" y1="313.30" x2="502.61" y2="315.20" stroke="#555555" stroke-width="0.9"/>
<text transform="translate(511.61,318.00) rotate(-60)" font-size="9.3" text-anchor="end" fill="#111111">1983</text>
<line x1="512.80" y1="313.30" x2="512.80" y2="315.20" stroke="#555555" stroke-width="0.9"/>
<text transform="translate(521.80,318.00) rotate(-60)" font-size="9.3" text-anchor="end" fill="#111111">1984</text>
<line x1="523.00" y1="313.30" x2="523.00" y2="315.20" stroke="#555555" stroke-width="0.9"/>
<text transform="translate(532.00,318.00) rotate(-60)" font-size="9.3" text-anchor="end" fill="#111111">1985</text>
<line x1="533.20" y1="313.30" x2="533.20" y2="315.20" stroke="#555555" stroke-width="0.9"/>
<text transform="translate(542.20,318.00) rotate(-60)" font-size="9.3" text-anchor="end" fill="#111111">1986</text>
<line x1="543.39" y1="313.30" x2="543.39" y2="315.20" stroke="#555555" stroke-width="0.9"/>
<text transform="translate(552.39,318.00) rotate(-60)" font-size="9.3" text-anchor="end" fill="#111111">1989</text>
<line x1="553.59" y1="313.30" x2="553.59" y2="315.20" stroke="#555555" stroke-width="0.9"/>
<text transform="translate(562.59,318.00) rotate(-60)" font-size="9.3" text-anchor="end" fill="#111111">1990</text>
<line x1="563.78" y1="313.30" x2="563.78" y2="315.20" stroke="#555555" stroke-width="0.9"/>
<text transform="translate(572.78,318.00) rotate(-60)" font-size="9.3" text-anchor="end" fill="#111111">1992</text>
<line x1="573.98" y1="313.30" x2="573.98" y2="315.20" stroke="#555555" stroke-width="0.9"/>
<text transform="translate(582.98,318.00) rotate(-60)" font-size="9.3" text-anchor="end" fill="#111111">1993</text>
<line x1="584.17" y1="313.30" x2="584.17" y2="315.20" stroke="#555555" stroke-width="0.9"/>
<text transform="translate(593.17,318.00) rotate(-60)" font-size="9.3" text-anchor="end" fill="#111111">1994</text>
<line x1="594.37" y1="313.30" x2="594.37" y2="315.20" stroke="#555555" stroke-width="0.9"/>
<text transform="translate(603.37,318.00) rotate(-60)" font-size="9.3" text-anchor="end" fill="#111111">2003</text>
<line x1="604.56" y1="313.30" x2="604.56" y2="315.20" stroke="#555555" stroke-width="0.9"/>
<text transform="translate(613.56,318.00) rotate(-60)" font-size="9.3" text-anchor="end" fill="#111111">2005</text>
<line x1="614.76" y1="313.30" x2="614.76" y2="315.20" stroke="#555555" stroke-width="0.9"/>
<text transform="translate(623.76,318.00) rotate(-60)" font-size="9.3" text-anchor="end" fill="#111111">2006</text>
<line x1="624.95" y1="313.30" x2="624.95" y2="315.20" stroke="#555555" stroke-width="0.9"/>
<text transform="translate(633.95,318.00) rotate(-60)" font-size="9.3" text-anchor="end" fill="#111111">2008</text>
<line x1="635.15" y1="313.30" x2="635.15" y2="315.20" stroke="#555555" stroke-width="0.9"/>
<text transform="translate(644.15,318.00) rotate(-60)" font-size="9.3" text-anchor="end" fill="#111111">2013</text>
<line x1="645.35" y1="313.30" x2="645.35" y2="315.20" stroke="#555555" stroke-width="0.9"/>
<text transform="translate(654.35,318.00) rotate(-60)" font-size="9.3" text-anchor="end" fill="#111111">2016</text>
<line x1="655.54" y1="313.30" x2="655.54" y2="315.20" stroke="#555555" stroke-width="0.9"/>
<text transform="translate(664.54,318.00) rotate(-60)" font-size="9.3" text-anchor="end" fill="#111111">2017</text>
<line x1="665.74" y1="313.30" x2="665.74" y2="315.20" stroke="#555555" stroke-width="0.9"/>
<text transform="translate(674.74,318.00) rotate(-60)" font-size="9.3" text-anchor="end" fill="#111111">2018</text>
<line x1="675.93" y1="313.30" x2="675.93" y2="315.20" stroke="#555555" stroke-width="0.9"/>
<text transform="translate(684.93,318.00) rotate(-60)" font-size="9.3" text-anchor="end" fill="#111111">2019</text>
<text x="482.22" y="208.70" font-size="10.8" fill="#4F9AFB">Mean: 1.75</text>
<text x="482.22" y="220.30" font-size="10.8" fill="#4F9AFB">SD: 1.92</text>
<text x="594.37" y="208.70" font-size="10.8" fill="#EF7B51">Mean: 6.9</text>
<text x="594.37" y="220.30" font-size="10.8" fill="#EF7B51">SD: 4.87</text>
<text transform="translate(520.91,242.60) rotate(-90)" font-size="9.8" letter-spacing="-0.45" text-anchor="middle" fill="#111111">-IOD</text>
<text transform="translate(565.71,242.60) rotate(-90)" font-size="9.8" letter-spacing="-0.45" text-anchor="middle" fill="#111111">-IOD</text>
<text transform="translate(676.41,241.60) rotate(-90)" font-size="9.8" letter-spacing="-0.45" text-anchor="middle" fill="#111111">+IOD</text>
<text x="579.08" y="192.30" font-size="11.3" text-anchor="middle" fill="#111111">(c) Neutral ENSO</text>
<text x="10.5" y="9.4" font-size="11.4" fill="#111111">(i) East coast (OND)</text>
<text x="10.5" y="181.1" font-size="11.4" fill="#111111">(ii) West coast (JJAS)</text>
<text transform="translate(8.9,85.0) rotate(-90)" font-size="10.6" text-anchor="middle" fill="#111111">Compound frequency</text>
<text transform="translate(8.9,256.3) rotate(-90)" font-size="10.6" text-anchor="middle" fill="#111111">Compound frequency</text>
<rect x="173.4" y="351.4" width="9" height="9" fill="#EF7B51"/>
<text x="185.6" y="360.6" font-size="12.0" font-style="italic" fill="#111111">(SS-RF)</text>
<rect x="236.3" y="351.4" width="9" height="9" fill="#4F9AFB"/>
<text x="248.4" y="360.6" font-size="12.0" font-style="italic" fill="#111111">(SL-RF)</text>
<line x1="311.3" y1="355.8" x2="316.6" y2="355.8" stroke="#1C12A0" stroke-width="1.3"/>
<text x="323.8" y="360.6" font-size="12.0" font-style="italic" fill="#111111">Trend(SL-RF)</text>
<line x1="405.8" y1="355.8" x2="411.1" y2="355.8" stroke="#FF1A1A" stroke-width="1.3"/>
<text x="418.6" y="360.6" font-size="12.0" font-style="italic" fill="#111111">Trend(SS-RF)</text>
</svg>
</body></html>
